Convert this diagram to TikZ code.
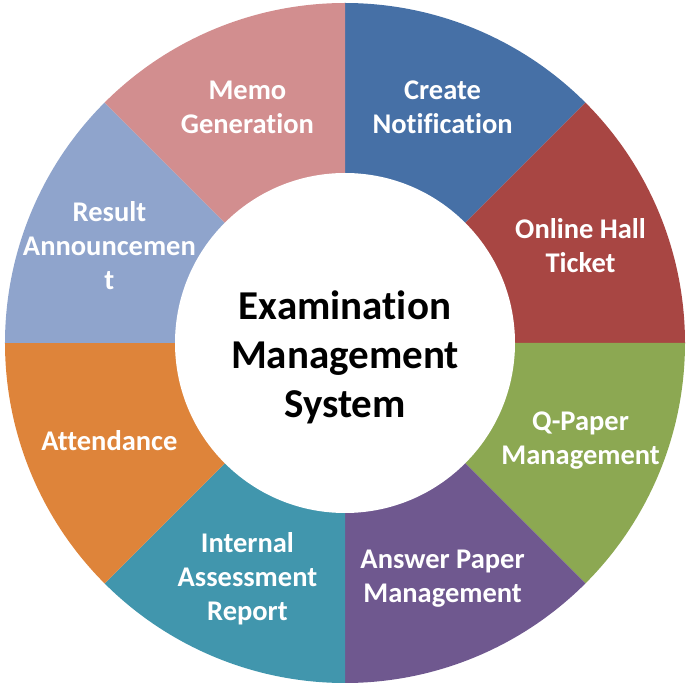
\documentclass[tikz,border=0pt]{standalone}
\usepackage{fontspec}
\setmainfont{Carlito}[Ligatures=NoCommon, RawFeature={-calt;-dlig}]

\definecolor{memopink}{RGB}{210,142,143}
\definecolor{createblue}{RGB}{70,112,166}
\definecolor{hallred}{RGB}{168,70,67}
\definecolor{qpapergreen}{RGB}{140,168,82}
\definecolor{answerpurple}{RGB}{111,88,143}
\definecolor{internalteal}{RGB}{65,150,173}
\definecolor{attendorange}{RGB}{222,132,58}
\definecolor{resultblue}{RGB}{143,164,204}

\tikzset{
	seglabel/.style={text=white, align=center, inner sep=0pt, font=\fontsize{28.5}{34}\selectfont\bfseries},
	hubtitle/.style={text=black, align=center, inner sep=0pt, font=\fontsize{41}{49}\selectfont\bfseries}
}

\begin{document}
\begin{tikzpicture}
	\useasboundingbox (-345pt,-339pt) rectangle (345pt,343pt);
	
	\fill[createblue] (0,0) -- (90:340pt) arc[start angle=90, end angle=45, radius=340pt] -- cycle;
	\fill[hallred] (0,0) -- (45:340pt) arc[start angle=45, end angle=0, radius=340pt] -- cycle;
	\fill[qpapergreen] (0,0) -- (0:340pt) arc[start angle=0, end angle=-45, radius=340pt] -- cycle;
	\fill[answerpurple] (0,0) -- (-45:340pt) arc[start angle=-45, end angle=-90, radius=340pt] -- cycle;
	\fill[internalteal] (0,0) -- (-90:340pt) arc[start angle=-90, end angle=-135, radius=340pt] -- cycle;
	\fill[attendorange] (0,0) -- (-135:340pt) arc[start angle=-135, end angle=-180, radius=340pt] -- cycle;
	\fill[resultblue] (0,0) -- (180:340pt) arc[start angle=180, end angle=135, radius=340pt] -- cycle;
	\fill[memopink] (0,0) -- (135:340pt) arc[start angle=135, end angle=90, radius=340pt] -- cycle;
	
	\fill[white] (0,0) circle[radius=170pt];
	\node[hubtitle] (title) at (0,-14pt) {Examination\\Management\\System};
	
	\node[seglabel] (create) at (67.5:255pt) {Create\\Notification};
	\node[seglabel] (hall) at (22.5:255pt) {Online Hall\\Ticket};
	\node[seglabel] (qpaper) at (-22.5:255pt) {Q-Paper\\Management};
	\node[seglabel] (answer) at (-67.5:255pt) {Answer Paper\\Management};
	\node[seglabel] (internal) at (-112.5:255pt) {Internal\\Assessment\\Report};
	\node[seglabel] (attend) at (-157.5:255pt) {Attendance};
	\node[seglabel] (result) at (157.5:255pt) {Result\\Announcemen\\t};
	\node[seglabel] (memo) at (112.5:255pt) {Memo\\Generation};
\end{tikzpicture}
\end{document}
